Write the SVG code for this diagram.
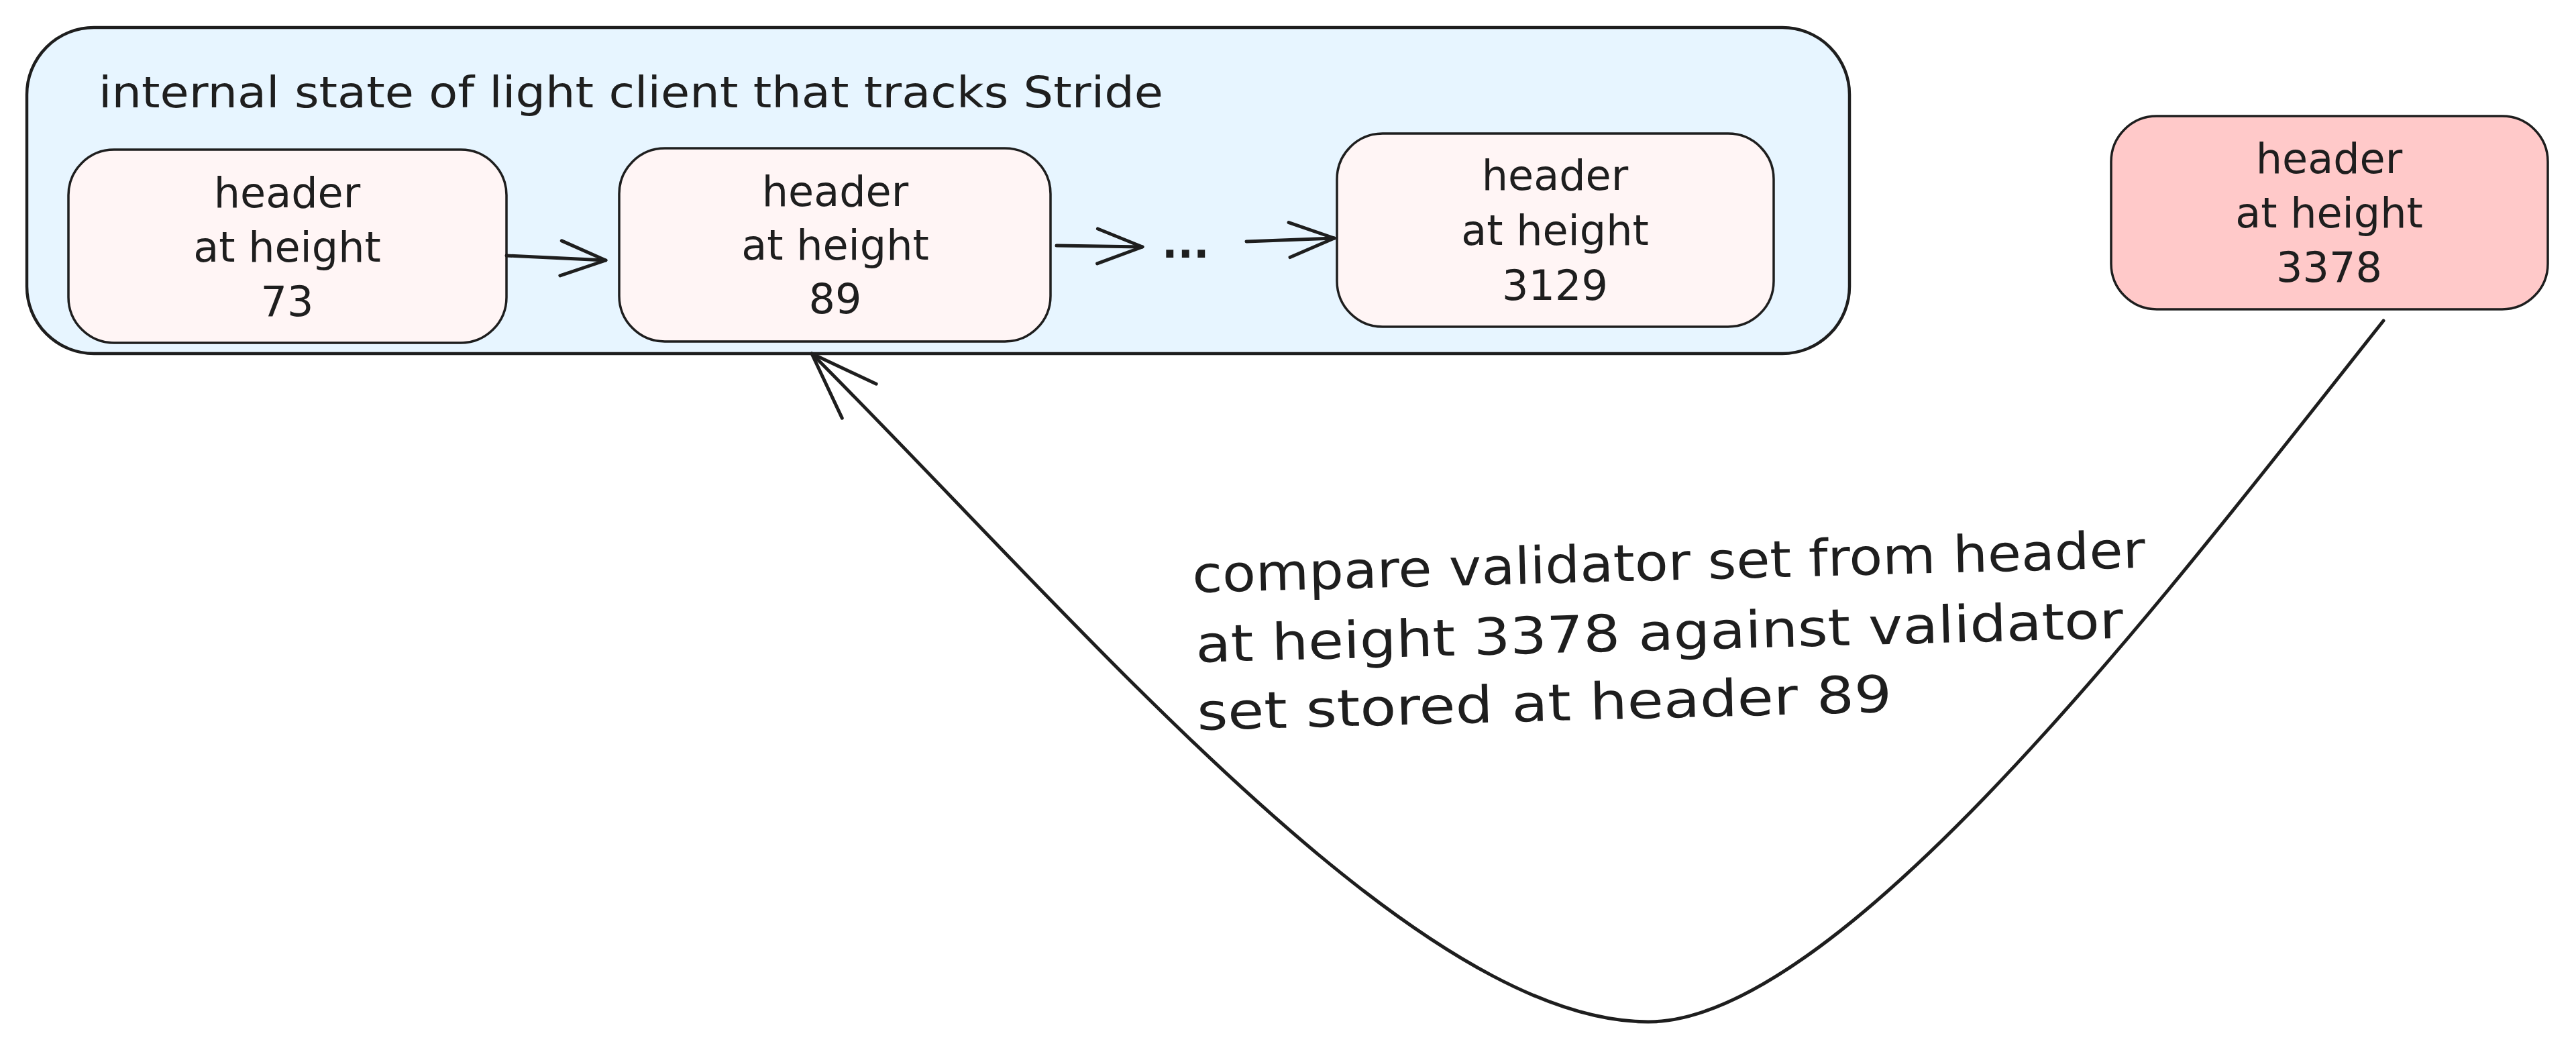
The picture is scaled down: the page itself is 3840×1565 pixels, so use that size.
<svg xmlns="http://www.w3.org/2000/svg" width="3840" height="1565" viewBox="0 0 3840 1565">
<style>
.box{stroke:#1e1e1e;stroke-width:3.5}
.t{font-family:"DejaVu Sans","Liberation Sans",sans-serif;fill:#1e1e1e}
.nt{font-size:62px;text-anchor:middle}
.conn{fill:none;stroke:#1e1e1e;stroke-width:5;stroke-linecap:round;stroke-linejoin:round}
.head{fill:none;stroke:#1e1e1e;stroke-width:5;stroke-linecap:round;stroke-linejoin:round}
</style>
<defs>
<marker id="arrS" markerUnits="userSpaceOnUse" orient="auto" refX="0" refY="0" markerWidth="10" markerHeight="10" overflow="visible">
<path class="head" d="M -67 -26 L 0 0 L -67 26"/>
</marker>
<marker id="arrB" markerUnits="userSpaceOnUse" orient="auto" refX="0" refY="0" markerWidth="10" markerHeight="10" overflow="visible">
<path class="head" d="M -100 -36 L 0 0 L -100 36"/>
</marker>
</defs>
<rect x="0" y="0" width="3840" height="1565" fill="#ffffff"/>

<g id="container">
<rect x="40" y="41" width="2717" height="486" rx="100" ry="100" fill="#e7f5ff" stroke="#1e1e1e" stroke-width="4.5"/>
<text class="t" x="147" y="160" font-size="64" textLength="1587" lengthAdjust="spacingAndGlyphs">internal state of light client that tracks Stride</text>
</g>

<g id="node-73">
<rect class="box" x="102" y="223" width="653" height="288" rx="68" ry="68" fill="#fff5f5"/>
<text class="t nt" x="428" y="309">header</text>
<text class="t nt" x="428" y="390">at height</text>
<text class="t nt" x="428" y="471">73</text>
</g>

<g id="node-89">
<rect class="box" x="923" y="221" width="643" height="288" rx="68" ry="68" fill="#fff5f5"/>
<text class="t nt" x="1245" y="307">header</text>
<text class="t nt" x="1245" y="387">at height</text>
<text class="t nt" x="1245" y="467">89</text>
</g>

<g id="ellipsis">
<text class="t" x="1732" y="384" font-size="62" font-weight="bold">...</text>
</g>

<g id="node-3129">
<rect class="box" x="1993" y="199" width="651" height="288" rx="68" ry="68" fill="#fff5f5"/>
<text class="t nt" x="2318" y="283">header</text>
<text class="t nt" x="2318" y="365">at height</text>
<text class="t nt" x="2318" y="447">3129</text>
</g>

<g id="node-3378">
<rect class="box" x="3147" y="173" width="651" height="288" rx="68" ry="68" fill="#ffc9c9"/>
<text class="t nt" x="3472" y="258">header</text>
<text class="t nt" x="3472" y="339">at height</text>
<text class="t nt" x="3472" y="420">3378</text>
</g>

<g id="connectors">
<path class="conn" d="M 755 381 L 903 388" marker-end="url(#arrS)"/>
<path class="conn" d="M 1575 366 L 1703 368" marker-end="url(#arrS)"/>
<path class="conn" d="M 1858 360 L 1989 355" marker-end="url(#arrS)"/>
<path class="conn" d="M 3553 478 C 3250 860 2750 1523 2457 1523 C 2107 1523 1610 927 1210 527" marker-end="url(#arrB)"/>
</g>

<g id="edge-label">
<text class="t" x="1778" y="883" font-size="76" textLength="1421" lengthAdjust="spacingAndGlyphs" transform="rotate(-1.5 1778 883)">compare validator set from header</text>
<text class="t" x="1783" y="987" font-size="76" textLength="1383" lengthAdjust="spacingAndGlyphs" transform="rotate(-1.5 1783 987)">at height 3378 against validator</text>
<text class="t" x="1785" y="1088" font-size="76" textLength="1036" lengthAdjust="spacingAndGlyphs" transform="rotate(-1.5 1785 1088)">set stored at header 89</text>
</g>
</svg>
